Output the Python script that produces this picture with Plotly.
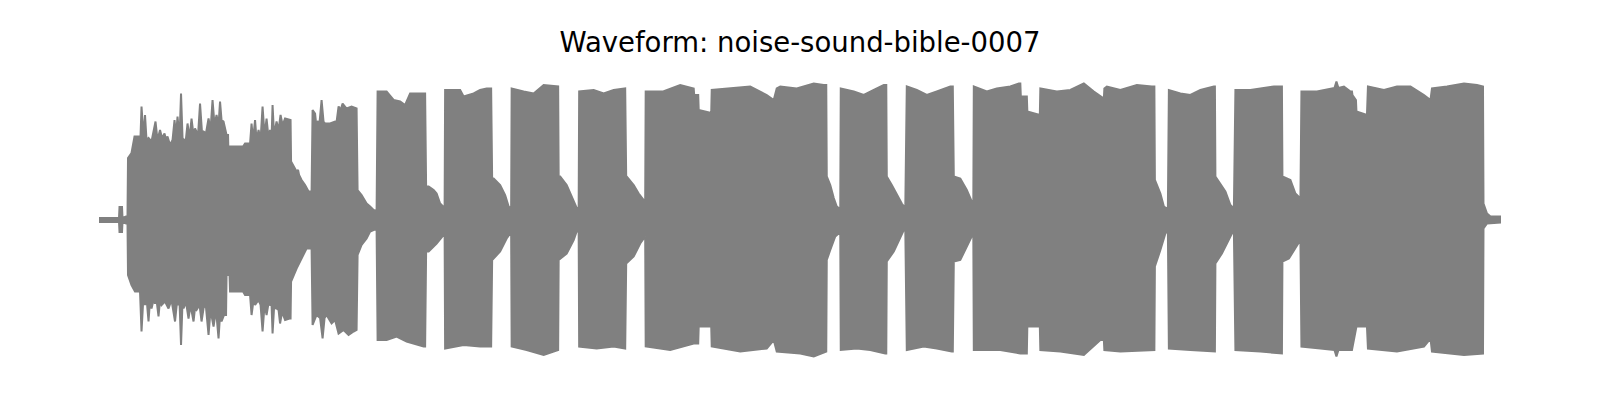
import plotly.graph_objects as go

TITLE = "Waveform: noise-sound-bible-0007"

# Upper envelope of the waveform: time (s) and amplitude (int16 units)
top_t = [0.00, 0.40, 0.41, 0.46, 0.47, 0.57, 0.58, 0.65, 0.71, 0.83, 0.85, 0.89, 0.92, 0.95, 0.99,
         1.05, 1.13, 1.17, 1.22, 1.26, 1.31, 1.34, 1.37, 1.42, 1.47, 1.51, 1.54, 1.57, 1.61, 1.64,
         1.67, 1.71, 1.74, 1.77, 1.81, 1.85, 1.89, 1.92, 1.98, 2.02, 2.06, 2.09, 2.14, 2.19, 2.23,
         2.27, 2.31, 2.35, 2.39, 2.42, 2.45, 2.49, 2.55, 2.58, 2.59, 2.61, 2.62, 2.88, 2.92, 3.02,
         3.05, 3.08, 3.12, 3.15, 3.19, 3.23, 3.27, 3.31, 3.35, 3.39, 3.42, 3.45, 3.47, 3.50, 3.55,
         3.59, 3.63, 3.67, 3.72, 3.81, 3.83, 3.84, 3.92, 3.95, 3.98, 4.00, 4.05, 4.12, 4.19, 4.25,
         4.27, 4.32, 4.34, 4.37, 4.41, 4.45, 4.49, 4.52, 4.62, 4.72, 4.75, 4.79, 4.83, 4.87, 4.95,
         5.05, 5.15, 5.17, 5.25, 5.35, 5.42, 5.49, 5.55, 5.57,
         5.75, 5.89, 6.02, 6.12, 6.22, 6.49, 6.52, 6.54, 6.59, 6.69, 6.75, 6.82, 6.89, 6.91, 6.92,
         7.22, 7.29, 7.49, 7.62, 7.75, 7.84, 7.86, 7.89, 8.02, 8.12, 8.19, 8.24, 8.25,
         8.49, 8.69, 8.89, 9.09, 9.18, 9.19, 9.22, 9.35, 9.45, 9.55, 9.59, 9.60,
         9.89, 10.09, 10.29, 10.52, 10.54, 10.55, 10.69, 10.79, 10.89, 10.92, 10.93,
         11.28, 11.62, 11.86, 11.89, 11.90, 11.98, 11.99, 12.24, 12.25,
         12.62, 13.02, 13.35, 13.49, 13.55, 13.62, 13.95, 14.29, 14.49, 14.54, 14.55, 14.62, 14.69,
         14.75, 14.82, 14.83,
         15.09, 15.29, 15.49, 15.69, 15.74, 15.75, 15.85, 15.95, 16.05, 16.12, 16.15,
         16.35, 16.55, 16.75, 17.02, 17.07, 17.09, 17.22, 17.35, 17.45, 17.48, 17.49,
         17.75, 17.95, 18.22, 18.39, 18.42, 18.43, 18.55, 18.56, 18.81, 18.82,
         19.15, 19.42, 19.69, 19.89, 20.02, 20.09, 20.10, 20.15, 20.42, 20.75, 21.05, 21.10, 21.11,
         21.22, 21.29, 21.37, 21.39,
         21.62, 21.82, 22.02, 22.29, 22.31, 22.32, 22.42, 22.52, 22.62, 22.69, 22.72,
         23.02, 23.22, 23.49, 23.65, 23.66, 23.82, 23.92, 24.02, 24.04,
         24.35, 24.62, 24.70, 24.74, 24.78, 24.89, 25.02, 25.05, 25.06, 25.13, 25.14, 25.35, 25.37,
         25.69, 25.95, 26.22, 26.49, 26.62, 26.65, 26.95, 27.29, 27.55, 27.67, 27.68, 27.75, 27.82,
         28.03]
top_a = [400, 400, 2600, 2600, 400, 800, 12400, 13400, 16700, 16700, 22700, 16700, 21000, 16000, 16400,
         15700, 19700, 16000, 18000, 16400, 17300, 16000, 16700, 15000, 16000, 20000, 17000, 20700, 16400, 25300,
         16400, 15700, 16400, 19300, 16400, 20300, 17000, 18300, 17000, 23300, 17400, 17700, 17400, 20300, 18000,
         24000, 19000, 21000, 19000, 23700, 20000, 19700, 17000, 17000, 12300, 12300, 14700, 14700, 15300, 15300,
         19300, 16000, 20000, 16000, 18000, 16000, 22700, 17000, 20300, 16400, 18000, 16400, 23000, 17000, 19700,
         18000, 21000, 19000, 20300, 20000, 20000, 11700, 10400, 9700, 10000, 9000, 8000, 7000, 5700, 5700,
         22000, 21300, 19400, 19700, 19600, 24000, 19600, 19300, 19300, 19700, 19600, 22700, 22000, 23300, 22300,
         22700, 22300, 6000, 5000, 3300, 2700, 2000, 1800, 25700,
         25700, 24000, 23700, 23000, 25300, 25300, 25300, 6700, 6700, 6000, 5300, 3300, 2700, 2400, 26000,
         26000, 24700, 25300, 26000, 26300, 26300, 8300, 8300, 7000, 5000, 2700, 2200, 26300,
         25700, 25300, 27000, 26700, 26700, 8700, 8700, 7000, 4700, 2400, 2200, 25700,
         26000, 25300, 26000, 26300, 8700, 8700, 7000, 5300, 4000, 3400, 25700,
         25700, 27000, 26300, 26300, 25000, 25000, 22000, 21400, 26000,
         26300, 26700, 25000, 24000, 26300, 26700, 26300, 27300, 27000, 27000, 8700, 7000, 4400,
         2700, 2200, 26300,
         25700, 25000, 26000, 27000, 27000, 8700, 7000, 5000, 3300, 2400, 26700,
         26000, 25000, 25700, 26700, 26700, 8700, 8300, 6000, 3700, 2800, 26700,
         25700, 26300, 26700, 27300, 27300, 24700, 24700, 21700, 21000, 26300,
         25700, 26000, 27300, 25700, 24700, 24300, 26300, 26700, 26000, 27000, 26700, 26700, 8000,
         5300, 2700, 2200, 26000,
         25300, 25000, 26000, 26700, 26700, 8700, 7300, 5700, 3000, 2300, 26000,
         26000, 26300, 26700, 26700, 8700, 8000, 5300, 4300, 25700,
         25700, 26300, 26400, 27700, 26400, 26700, 25700, 25700, 25000, 24000, 21700, 21000, 26700,
         26000, 26700, 26700, 25000, 24000, 26300, 26700, 27300, 27000, 26700, 3300, 1300, 700,
         700]

# Lower envelope of the waveform: time (s) and amplitude (int16 units)
bot_t = [0.00, 0.40, 0.41, 0.46, 0.47, 0.57, 0.58, 0.65, 0.72, 0.82, 0.85, 0.89, 0.92, 0.95, 0.99,
         1.02, 1.05, 1.09, 1.12, 1.15, 1.19, 1.22, 1.25, 1.32, 1.39, 1.45, 1.52, 1.56, 1.59, 1.61,
         1.64, 1.67, 1.69, 1.74, 1.79, 1.83, 1.89, 1.92, 1.95, 2.01, 2.05, 2.10, 2.14, 2.19, 2.23,
         2.29, 2.34, 2.39, 2.42, 2.45, 2.50, 2.54, 2.55, 2.61, 2.62, 2.88, 2.92, 3.02, 3.05, 3.09,
         3.12, 3.19, 3.23, 3.27, 3.31, 3.35, 3.39, 3.42, 3.45, 3.47, 3.50, 3.55, 3.59, 3.62, 3.66,
         3.72, 3.81, 3.83, 3.84, 3.95, 4.02, 4.15, 4.25, 4.27, 4.31, 4.35, 4.42, 4.47, 4.51, 4.55,
         4.65, 4.72, 4.79, 4.89, 4.99, 5.09, 5.15, 5.17, 5.25, 5.35, 5.42, 5.49, 5.55, 5.57,
         5.75, 5.95, 6.15, 6.29, 6.49, 6.52, 6.54, 6.59, 6.75, 6.89, 6.91, 6.92,
         7.29, 7.62, 7.84, 7.86, 8.02, 8.15, 8.22, 8.24, 8.25,
         8.55, 8.89, 9.09, 9.18, 9.19, 9.35, 9.49, 9.55, 9.59, 9.60,
         9.95, 10.29, 10.52, 10.54, 10.69, 10.82, 10.92, 10.93,
         11.42, 11.89, 11.98, 11.99, 12.24, 12.25,
         12.82, 13.35, 13.49, 13.55, 14.02, 14.29, 14.54, 14.55, 14.62, 14.72, 14.82, 14.83,
         15.15, 15.42, 15.72, 15.74, 15.75, 15.89, 15.99, 16.09, 16.12, 16.15,
         16.49, 16.75, 17.05, 17.07, 17.09, 17.22, 17.35, 17.45, 17.48, 17.49,
         18.02, 18.42, 18.55, 18.56, 18.81, 18.82,
         19.22, 19.69, 20.02, 20.09, 20.10, 20.42, 21.10, 21.11, 21.22, 21.32, 21.37, 21.39,
         21.82, 22.31, 22.32, 22.45, 22.55, 22.65, 22.69, 22.72,
         23.22, 23.65, 23.66, 23.79, 23.92, 24.02, 24.04,
         24.42, 24.70, 24.74, 24.78, 25.02, 25.05, 25.14, 25.35, 25.37,
         25.95, 26.49, 26.62, 26.65, 27.29, 27.67, 27.68, 27.75, 27.82, 28.03]
bot_a = [-400, -400, -2400, -2400, -400, -800, -11000, -13000, -14300, -14300, -22300, -15000, -17000, -15600, -20300,
         -16000, -17700, -16000, -16700, -16000, -19300, -16000, -17000, -16300, -17700, -16000, -20300, -16400, -17000, -16400,
         -25000, -16400, -17700, -16400, -19700, -17000, -20300, -17600, -18000, -17000, -20300, -17000, -17600, -23000, -18000,
         -21300, -18000, -23700, -19000, -20300, -19000, -19000, -11000, -11000, -14300, -14300, -15000, -15000, -19000, -16000,
         -17000, -16000, -17000, -22300, -17000, -19000, -16600, -17000, -17000, -22700, -17600, -17700, -18000, -20700, -18400,
         -20000, -19700, -19700, -12300, -9700, -8300, -5700, -5700, -21000, -20000, -19000, -19600, -23700, -19600, -19000,
         -20700, -20000, -22700, -22000, -23000, -22300, -22000, -7000, -5000, -3700, -2300, -2000, -1800, -24000,
         -24000, -23300, -24300, -24700, -25300, -25300, -6300, -6300, -4700, -3000, -2600, -25700,
         -25000, -25300, -25300, -8000, -6300, -3700, -2700, -2400, -25300,
         -26000, -27000, -26300, -26000, -8000, -6700, -4000, -2300, -2200, -25300,
         -25700, -25300, -25700, -8700, -7300, -4700, -3300, -25300,
         -26000, -24700, -24700, -21300, -21300, -25300,
         -26300, -25700, -24000, -26300, -26700, -27300, -26300, -8000, -6000, -3300, -2400, -26000,
         -25700, -26000, -26700, -26700, -8300, -6300, -4000, -2000, -1600, -26000,
         -25300, -25700, -26300, -26300, -8300, -8000, -5300, -3300, -2600, -26000,
         -26000, -26700, -26700, -21300, -21300, -26000,
         -26300, -27000, -24000, -24000, -26000, -26300, -26000, -9300, -6000, -2700, -2000, -25700,
         -26000, -26300, -8700, -6700, -4700, -2700, -2300, -26000,
         -26300, -26700, -8300, -7700, -5700, -4000, -25300,
         -25700, -26000, -27300, -26000, -26000, -26000, -21300, -21300, -25700,
         -26300, -25300, -23700, -26300, -27000, -26700, -1700, -700, -700, -500]

# Closed outline: upper envelope left-to-right, then lower envelope right-to-left
poly_t = top_t + bot_t[::-1]
poly_a = top_a + bot_a[::-1]

fig = go.Figure()
fig.add_trace(go.Scatter(
    x=poly_t, y=poly_a,
    mode="lines",
    fill="toself",
    fillcolor="#808080",
    line=dict(color="#808080", width=2, shape="linear"),
    hoverinfo="skip",
    showlegend=False,
))

fig.update_layout(
    width=1600, height=400,
    margin=dict(l=91, r=107, t=72, b=48),
    paper_bgcolor="white",
    plot_bgcolor="white",
    title=dict(
        text=TITLE,
        x=(800 - 8) / 1600, xanchor="center",
        y=1 - 34 / 400, yanchor="middle", yref="container",
        font=dict(family="DejaVu Sans", size=27.5, color="black"),
    ),
    xaxis=dict(range=[0, 28.03], visible=False),
    yaxis=dict(range=[-28000, 28000], visible=False),
)

fig.write_html("out.html")
